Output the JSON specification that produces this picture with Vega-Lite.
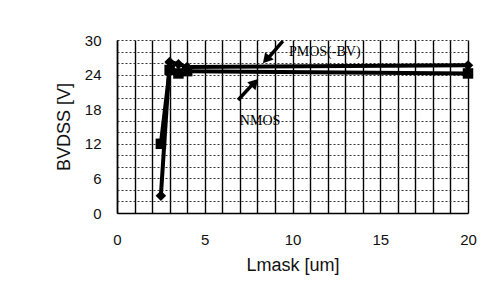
{
  "$schema": "https://vega.github.io/schema/vega-lite/v6.json",
  "autosize": "none",
  "width": 351,
  "height": 173,
  "padding": {"left": 117, "top": 40, "right": 23, "bottom": 84},
  "background": "white",
  "config": {
    "view": {"stroke": null},
    "axis": {"labelFont": "Liberation Sans", "titleFont": "Liberation Sans", "labelColor": "#111", "titleColor": "#111", "titleFontWeight": "normal", "labelOverlap": false, "labelBound": false, "labelFlush": false}
  },
  "datasets": {
    "pts": [
      {"device": "PMOS", "L": 2.5, "BV": 3},
      {"device": "PMOS", "L": 3, "BV": 26.2},
      {"device": "PMOS", "L": 3.5, "BV": 25.8},
      {"device": "PMOS", "L": 4, "BV": 25.3},
      {"device": "PMOS", "L": 20, "BV": 25.6},
      {"device": "NMOS", "L": 2.5, "BV": 12},
      {"device": "NMOS", "L": 3, "BV": 24.8},
      {"device": "NMOS", "L": 3.5, "BV": 24.2},
      {"device": "NMOS", "L": 4, "BV": 24.6},
      {"device": "NMOS", "L": 20, "BV": 24.2}
    ],
    "arrows": [
      {"name": "NMOS", "x1": 6.9, "y1": 19.6, "x2": 7.75, "y2": 22.4},
      {"name": "PMOS", "x1": 9.45, "y1": 29.8, "x2": 8.65, "y2": 27.0}
    ],
    "heads": [
      {"name": "NMOS", "x": 7.85, "y": 22.6, "angle": 44},
      {"name": "PMOS", "x": 8.5, "y": 26.6, "angle": 221}
    ],
    "labels": [
      {"text": "PMOS(-BV)", "x": 9.8, "y": 27.3},
      {"text": "NMOS", "x": 7.0, "y": 15.2}
    ]
  },
  "layer": [
    {
      "data": {"name": "pts"},
      "mark": {"type": "line", "color": "black", "strokeWidth": 4},
      "encoding": {
        "x": {
          "field": "L", "type": "quantitative",
          "scale": {"domain": [0, 20], "nice": false},
          "axis": {
            "values": [0,1,2,3,4,5,6,7,8,9,10,11,12,13,14,15,16,17,18,19,20],
            "tickCount": 100, "format": "d",
            "labelExpr": "datum.value % 5 === 0 ? datum.label : ''",
            "grid": true, "gridColor": "black", "gridWidth": 1.4, "gridOpacity": 1,
            "ticks": false, "domain": true, "domainColor": "black", "domainWidth": 1.5,
            "labelFontSize": 15, "labelPadding": 19,
            "title": "Lmask [um]", "titleFontSize": 18, "titlePadding": 9
          }
        },
        "y": {
          "field": "BV", "type": "quantitative",
          "scale": {"domain": [0, 30], "nice": false},
          "axis": {
            "values": [0,2,4,6,8,10,12,14,16,18,20,22,24,26,28,30],
            "tickCount": 100, "format": "d",
            "labelExpr": "datum.value % 6 === 0 ? datum.label : ''",
            "grid": true, "gridColor": "#333", "gridDash": [2, 2], "gridWidth": 1, "gridOpacity": 1,
            "ticks": false, "domain": true, "domainColor": "black", "domainWidth": 1.5,
            "labelFontSize": 15, "labelPadding": 16,
            "title": "BVDSS [V]", "titleFontSize": 18, "titlePadding": 11
          }
        },
        "detail": {"field": "device", "type": "nominal"}
      }
    },
    {
      "data": {"name": "pts"},
      "mark": {"type": "point", "filled": true, "color": "black", "opacity": 1, "size": 110},
      "encoding": {
        "x": {"field": "L", "type": "quantitative"},
        "y": {"field": "BV", "type": "quantitative"},
        "shape": {"field": "device", "type": "nominal", "scale": {"domain": ["PMOS", "NMOS"], "range": ["diamond", "square"]}, "legend": null}
      }
    },
    {
      "data": {"name": "arrows"},
      "mark": {"type": "rule", "color": "black", "strokeWidth": 3.5},
      "encoding": {
        "x": {"field": "x1", "type": "quantitative"},
        "y": {"field": "y1", "type": "quantitative"},
        "x2": {"field": "x2"},
        "y2": {"field": "y2"}
      }
    },
    {
      "data": {"name": "heads"},
      "mark": {"type": "point", "shape": "triangle-up", "filled": true, "color": "black", "opacity": 1, "size": 130},
      "encoding": {
        "x": {"field": "x", "type": "quantitative"},
        "y": {"field": "y", "type": "quantitative"},
        "angle": {"field": "angle", "type": "quantitative", "scale": null}
      }
    },
    {
      "data": {"name": "labels"},
      "mark": {"type": "text", "font": "Liberation Serif", "fontSize": 14, "align": "left", "baseline": "alphabetic", "color": "black"},
      "encoding": {
        "x": {"field": "x", "type": "quantitative"},
        "y": {"field": "y", "type": "quantitative"},
        "text": {"field": "text"}
      }
    }
  ]
}
